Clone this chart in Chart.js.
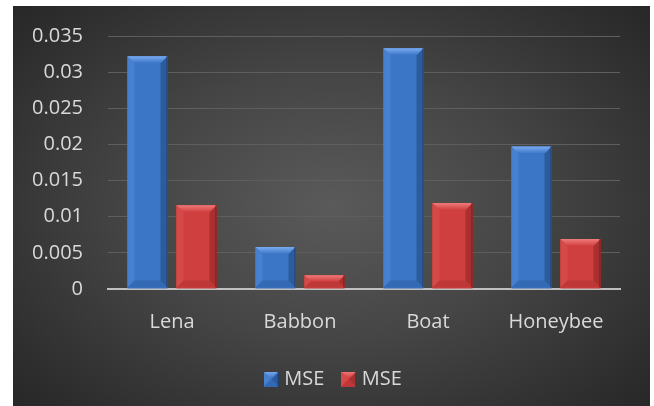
<!DOCTYPE html>
<html>
<head>
<meta charset="utf-8">
<script src="https://cdn.jsdelivr.net/npm/chart.js@4.4.1/dist/chart.umd.min.js"></script>
<style>
  html, body { margin: 0; padding: 0; background: #fff; }
  #wrap {
    position: absolute; left: 13px; top: 6px; width: 637px; height: 400px;
    background: radial-gradient(ellipse 70% 75% at 50% 50%, #5a5a5a 0%, #454545 45%, #2e2e2e 85%, #262626 100%);
  }
</style>
</head>
<body>
<div id="wrap"><canvas id="grafico"></canvas></div>
<script>
// Dados do gráfico
const categorias = ['Lena', 'Babbon', 'Boat', 'Honeybee'];
const mseAzul = [0.0322, 0.0058, 0.0333, 0.0197];
const mseVermelho = [0.0116, 0.0019, 0.0119, 0.0069];
const ticksY = [0, 0.005, 0.01, 0.015, 0.02, 0.025, 0.03, 0.035];

const cores = {
    azul: { base: '#3b76c6', claro: '#7aaaf0', lado: '#4680cf', escuro: '#2c5c9e', borda: '#1f3f70' },
    vermelho: { base: '#cf3f3f', claro: '#f07a7a', lado: '#d64949', escuro: '#a83030', borda: '#6e1f1f' }
};

// desenha o efeito "bisel" de um retângulo
function bisel(ctx, l, t, r, b, c, tam) {
    const h = b - t;
    const s = Math.min(tam, h / 2, (r - l) / 2);
    ctx.save();
    ctx.fillStyle = c.base;
    ctx.fillRect(l, t, r - l, h);
    // lado esquerdo
    ctx.fillStyle = c.lado;
    ctx.beginPath();
    ctx.moveTo(l, t); ctx.lineTo(l + s, t + s); ctx.lineTo(l + s, b - s); ctx.lineTo(l, b);
    ctx.fill();
    // lado direito
    ctx.fillStyle = c.escuro;
    ctx.beginPath();
    ctx.moveTo(r, t); ctx.lineTo(r - s, t + s); ctx.lineTo(r - s, b - s); ctx.lineTo(r, b);
    ctx.fill();
    // baixo
    ctx.fillStyle = c.escuro;
    ctx.globalAlpha = 0.45;
    ctx.beginPath();
    ctx.moveTo(l, b); ctx.lineTo(r, b); ctx.lineTo(r - s, b - s); ctx.lineTo(l + s, b - s);
    ctx.fill();
    ctx.globalAlpha = 1;
    // topo
    const g = ctx.createLinearGradient(0, t, 0, t + s);
    g.addColorStop(0, c.claro);
    g.addColorStop(1, c.base);
    ctx.fillStyle = g;
    ctx.beginPath();
    ctx.moveTo(l, t); ctx.lineTo(r, t); ctx.lineTo(r - s, t + s); ctx.lineTo(l + s, t + s);
    ctx.fill();
    // borda
    ctx.strokeStyle = c.borda;
    ctx.lineWidth = 1;
    ctx.beginPath();
    ctx.moveTo(r - 0.5, t); ctx.lineTo(r - 0.5, b);
    ctx.stroke();
    ctx.restore();
}

function iconeLegenda(c) {
    const cv = document.createElement('canvas');
    cv.width = 15; cv.height = 15;
    bisel(cv.getContext('2d'), 0, 0, 15, 15, c, 7);
    return cv;
}

const pluginBisel = {
    id: 'bisel',
    afterDatasetsDraw(chart) {
        const ctx = chart.ctx;
        chart.data.datasets.forEach((ds, i) => {
            const meta = chart.getDatasetMeta(i);
            const c = i === 0 ? cores.azul : cores.vermelho;
            meta.data.forEach(bar => {
                const p = bar.getProps(['x', 'y', 'base', 'width'], true);
                bisel(ctx, p.x - p.width / 2, p.y, p.x + p.width / 2, p.base - 1, c, 7);
            });
        });
    }
};

Chart.defaults.font.family = '"Open Sans", Lato, sans-serif';
Chart.defaults.color = '#d9d9d9';

new Chart(document.querySelector('#grafico'), {
    type: 'bar',
    data: {
        labels: categorias,
        datasets: [{
            label: 'MSE',
            data: mseAzul,
            backgroundColor: cores.azul.base,
            pointStyle: iconeLegenda(cores.azul)
        }, {
            label: 'MSE',
            data: mseVermelho,
            backgroundColor: cores.vermelho.base,
            pointStyle: iconeLegenda(cores.vermelho)
        }]
    },
    options: {
        responsive: true,
        maintainAspectRatio: false,
        animation: false,
        categoryPercentage: 0.766,
        barPercentage: 0.816,
        layout: { padding: { top: 30, left: 7, right: 0, bottom: 7 } },
        plugins: {
            tooltip: { enabled: false },
            legend: {
                position: 'bottom',
                labels: {
                    usePointStyle: true,
                    pointStyleWidth: 6,
                    font: { size: 20 },
                    color: '#d9d9d9',
                    padding: 21.5
                }
            }
        },
        scales: {
            x: {
                grid: { display: false, drawTicks: false },
                border: { display: true, color: '#bfbfbf', width: 2 },
                ticks: { font: { size: 20 }, color: '#d9d9d9', padding: 21 },
                afterFit(scale) { scale.height = 58.5; }
            },
            y: {
                min: 0,
                max: 0.035,
                afterBuildTicks(scale) {
                    scale.ticks = ticksY.map(v => ({ value: v }));
                },
                afterFit(scale) { scale.width = 88; },
                grid: { color: '#5e5e5e', lineWidth: 1, drawTicks: true, tickLength: 25, tickColor: 'rgba(0,0,0,0)' },
                border: { display: false },
                ticks: {
                    font: { size: 20 },
                    color: '#d9d9d9',
                    padding: 0,
                    callback: v => String(+v.toFixed(3))
                }
            },
            // eixo vazio só para reservar a margem direita
            direita: {
                type: 'linear',
                position: 'right',
                grid: { display: false, drawTicks: false },
                border: { display: false },
                ticks: { display: false },
                afterFit(scale) { scale.width = 30; }
            }
        }
    },
    plugins: [pluginBisel]
});
</script>
</body>
</html>
